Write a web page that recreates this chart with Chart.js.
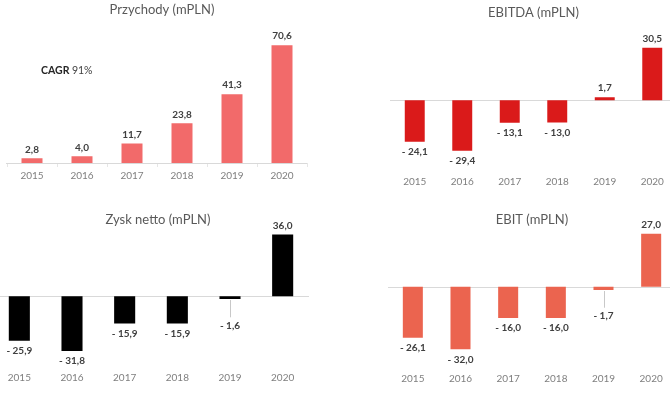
<!DOCTYPE html>
<html>
<head>
<meta charset="utf-8">
<script src="https://cdn.jsdelivr.net/npm/chart.js@4.4.1/dist/chart.umd.min.js"></script>
<style>
  html, body { margin: 0; padding: 0; background: #fff; overflow: hidden; }
  body { width: 670px; height: 394px; position: relative; }
  canvas { position: absolute; }
</style>
</head>
<body>
<canvas id="c_przychody" width="335" height="197" style="left:0;top:0"></canvas>
<canvas id="c_ebitda" width="345" height="197" style="left:335px;top:0"></canvas>
<canvas id="c_zysk" width="340" height="197" style="left:-10px;top:197px"></canvas>
<canvas id="c_ebit" width="345" height="197" style="left:335px;top:197px"></canvas>
<script>
// dane
const years = ['2015', '2016', '2017', '2018', '2019', '2020'];
const przychody = [2.8, 4.0, 11.7, 23.8, 41.3, 70.6];
const ebitda = [-24.1, -29.4, -13.1, -13.0, 1.7, 30.5];
const zyskNetto = [-25.9, -31.8, -15.9, -15.9, -1.6, 36.0];
const ebit = [-26.1, -32.0, -16.0, -16.0, -1.7, 27.0];

const FONT = 'Lato, "Noto Sans", sans-serif';

function fmt(v) {
    return (v < 0 ? '- ' : '') + Math.abs(v).toFixed(1).replace('.', ',');
}

// linia zera + etykiety wartosci
const valuePlugin = {
    id: 'valueLabels',
    beforeDatasetsDraw(chart) {
        const ctx = chart.ctx;
        const area = chart.chartArea;
        const zero = Math.round(chart.scales.y.getPixelForValue(0)) + 0.5;
        ctx.save();
        ctx.strokeStyle = '#d9d9d9';
        ctx.lineWidth = 1;
        ctx.beginPath();
        ctx.moveTo(area.left - 1, zero);
        ctx.lineTo(area.right, zero);
        ctx.stroke();
        ctx.restore();
    },
    afterDatasetsDraw(chart) {
        const ctx = chart.ctx;
        const meta = chart.getDatasetMeta(0);
        const vals = chart.data.datasets[0].data;
        const zero = chart.scales.y.getPixelForValue(0);
        ctx.save();
        ctx.font = 'bold 10px ' + FONT;
        ctx.fillStyle = '#404040';
        ctx.textAlign = 'center';
        ctx.textBaseline = 'middle';
        meta.data.forEach(function (bar, i) {
            const v = vals[i];
            let y;
            if (v >= 0) {
                y = bar.y - 9;
            } else if (v > -3) {
                y = zero + 29;
                ctx.strokeStyle = '#c8c8c8';
                ctx.lineWidth = 1;
                ctx.beginPath();
                ctx.moveTo(Math.round(bar.x) + 0.5, bar.y + 1);
                ctx.lineTo(Math.round(bar.x) + 0.5, y - 8);
                ctx.stroke();
            } else {
                y = bar.y + 10;
            }
            ctx.fillText(fmt(v), bar.x, y);
        });
        ctx.restore();
    }
};

const cagrPlugin = {
    id: 'cagr',
    afterDraw(chart) {
        const ctx = chart.ctx;
        ctx.save();
        ctx.textBaseline = 'middle';
        ctx.fillStyle = '#262626';
        ctx.font = 'bold 10.5px ' + FONT;
        ctx.fillText('CAGR', 41, 71);
        const w = ctx.measureText('CAGR ').width;
        ctx.fillStyle = '#404040';
        ctx.font = '10.5px ' + FONT;
        ctx.fillText('91%', 41 + w, 71);
        ctx.restore();
    }
};

function makeChart(id, title, values, color, o) {
    return new Chart(document.getElementById(id), {
        type: 'bar',
        data: {
            labels: years,
            datasets: [{
                data: values,
                backgroundColor: color,
                borderWidth: 0,
                barPercentage: o.barPct,
                categoryPercentage: 1
            }]
        },
        options: {
            responsive: false,
            animation: false,
            layout: { padding: o.padding },
            plugins: {
                legend: { display: false },
                tooltip: { enabled: false },
                title: {
                    display: true,
                    text: title,
                    color: '#595959',
                    font: { family: FONT, size: 13, weight: 'normal' },
                    padding: o.titlePad
                }
            },
            scales: {
                x: {
                    grid: {
                        display: true,
                        drawOnChartArea: false,
                        tickLength: 4,
                        color: o.tickColor || 'rgba(0,0,0,0)'
                    },
                    border: { display: false },
                    ticks: {
                        color: '#7f7f7f',
                        padding: 3,
                        font: { family: FONT, size: 10 }
                    }
                },
                y: {
                    position: 'right',
                    min: o.min,
                    max: o.max,
                    grid: { display: false },
                    border: { display: false },
                    ticks: { display: false },
                    afterFit: function (s) { s.width = o.gap; }
                }
            }
        },
        plugins: o.extra ? [valuePlugin, o.extra] : [valuePlugin]
    });
}

makeChart('c_przychody', 'Przychody (mPLN)', przychody, '#f26a6a', {
    padding: { left: 7, right: 18, top: 0, bottom: 12 },
    titlePad: { top: 2, bottom: 12 },
    min: 0, max: 80, gap: 10, barPct: 0.42,
    tickColor: '#e6e6e6',
    extra: cagrPlugin
});

makeChart('c_ebitda', 'EBITDA (mPLN)', ebitda, '#da1a1a', {
    padding: { left: 56, right: 4, top: 0, bottom: 6 },
    titlePad: { top: 5, bottom: 9 },
    min: -40, max: 41, gap: 0, barPct: 0.42
});

makeChart('c_zysk', 'Zysk netto (mPLN)', zyskNetto, '#000000', {
    padding: { left: 3, right: 7, top: 0, bottom: 7 },
    titlePad: { top: 15, bottom: 0 },
    min: -40, max: 40, gap: 14, barPct: 0.4
});

makeChart('c_ebit', 'EBIT (mPLN)', ebit, '#eb644f', {
    padding: { left: 54, right: 5, top: 0, bottom: 6 },
    titlePad: { top: 15, bottom: 0 },
    min: -40.5, max: 30.2, gap: 0, barPct: 0.42
});
</script>
</body>
</html>
